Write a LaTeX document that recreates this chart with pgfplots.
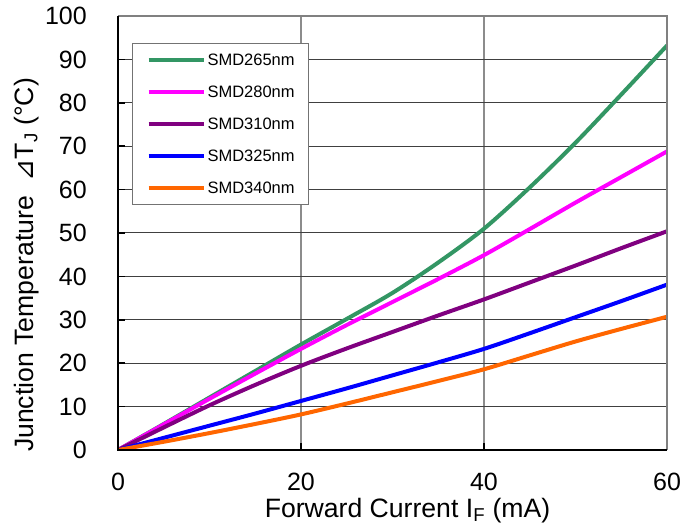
\documentclass[border=0pt]{standalone}
\usepackage{fontspec}
\setmainfont{Liberation Sans}
\newfontfamily\dejavu{DejaVu Sans}
\usepackage{pgfplots}
\pgfplotsset{compat=1.18}
\definecolor{cgreen}{RGB}{51,150,100}
\definecolor{cmag}{RGB}{255,0,255}
\definecolor{cpur}{RGB}{128,0,128}
\definecolor{cblue}{RGB}{0,0,255}
\definecolor{corange}{RGB}{255,102,0}
\pgfplotstableread{
x g m p b o
0 0 0 0 0 0
5 6.0 5.9 5.2 2.8 1.9
10 12.1 11.8 10.3 5.6 3.9
15 18.2 17.6 15.0 8.4 6.0
20 24.3 23.3 19.4 11.3 8.2
25 30.2 28.8 23.4 14.2 10.7
30 36.2 34.1 27.2 17.2 13.3
35 43.2 39.4 31.0 20.2 15.9
40 51.0 44.9 34.7 23.3 18.6
45 60.5 50.9 38.6 26.9 21.8
50 70.8 57.0 42.5 30.6 25.0
55 81.9 62.9 46.5 34.3 27.9
60 93.2 68.8 50.4 38.1 30.7
}\data
\begin{document}
\begin{tikzpicture}
\begin{axis}[
 at={(118pt,74pt)}, anchor=south west,
 scale only axis, width=549pt, height=434pt,
 xmin=0, xmax=60, ymin=0, ymax=100,
 xtick={0,20,40,60}, ytick={0,10,...,100},
 xtick pos=left, ytick pos=left,
 axis line style={draw=none},
 grid=major,
 x grid style={color=black!45, line width=1.5pt},
 y grid style={color=black!75, line width=1pt},
 tick style={black, line width=1.5pt},
 major tick length=7pt,
 /pgf/number format/assume math mode=true,
 ticklabel style={font=\fontsize{25}{25}\selectfont, inner sep=0pt},
 xticklabel style={yshift=-23pt},
 yticklabel style={xshift=-31pt},
 xlabel={Forward Current I\textsubscript{F} (mA)},
 ylabel={Junction Temperature\ \ {\dejavu ⊿}T\textsubscript{J} (°C)},
 label style={font=\fontsize{26.6}{26.6}\selectfont},
 xlabel style={at={(axis description cs:0.5273,-0.1544)}, anchor=base},
 ylabel style={at={(axis description cs:-0.1548,0.4263)}, anchor=base},
 legend cell align=left,
 legend image code/.code={\draw[#1] (0pt,0pt) -- (55pt,0pt);},
 legend style={at={(axis description cs:0,1)}, anchor=north west,
   xshift=14pt, yshift=-27pt, draw=black!55, line width=1pt, fill=white,
   inner xsep=14pt, inner ysep=10.5pt, row sep=20pt, column sep=2pt,
   font=\fontsize{16.5}{16.5}\selectfont,
   nodes={inner sep=0pt, text height=12pt, text depth=0pt}},
 extra description/.code={
   \draw[black!50, line width=2pt] (axis description cs:0,1) -- (axis description cs:1,1) -- (axis description cs:1,0);
   \draw[black, line width=2pt] (axis description cs:0,1) -- (axis description cs:0,0) -- (axis description cs:1,0);
 },
]
\addplot[cgreen, line width=4pt, smooth] table[x=x,y=g] {\data};
\addlegendentry{SMD265nm}
\addplot[cmag, line width=4pt, smooth] table[x=x,y=m] {\data};
\addlegendentry{SMD280nm}
\addplot[cpur, line width=4pt, smooth] table[x=x,y=p] {\data};
\addlegendentry{SMD310nm}
\addplot[cblue, line width=4pt, smooth] table[x=x,y=b] {\data};
\addlegendentry{SMD325nm}
\addplot[corange, line width=4pt, smooth] table[x=x,y=o] {\data};
\addlegendentry{SMD340nm}
\end{axis}
\pgfresetboundingbox
\path[use as bounding box] (0pt,0pt) rectangle (698pt,524pt);
\end{tikzpicture}
\end{document}
